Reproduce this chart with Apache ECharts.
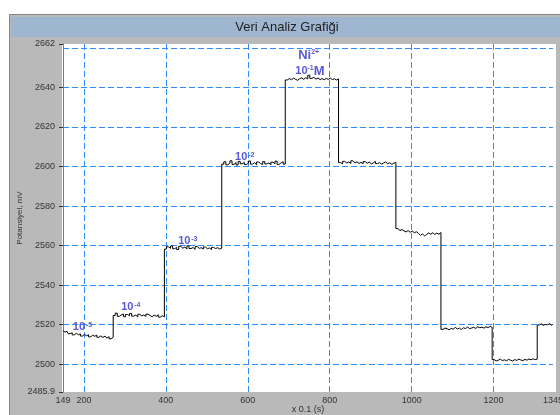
<!DOCTYPE html>
<html><head><meta charset="utf-8">
<script src="https://cdn.jsdelivr.net/npm/echarts@6/dist/echarts.min.js"></script>
<style>html,body{margin:0;padding:0;background:#fff}#c{width:560px;height:415px}</style>
</head><body><div id="c"></div>
<script>
const titleText = 'Veri Analiz Grafiği';
const xName = 'x 0.1 (s)';
const yName = 'Potansiyel, mV';
const xTickLabels = [149, 200, 400, 600, 800, 1000, 1200, 1345];
const yTickLabels = [2485.9, 2500, 2520, 2540, 2560, 2580, 2600, 2620, 2640, 2662];
const xGridLines = [200, 400, 600, 800, 1000, 1200];
const yGridLines = [2500, 2520, 2540, 2560, 2580, 2600, 2620, 2640, 2660];
const xMin = 149, xMax = 1345, yMin = 2485.9, yMax = 2662;
const tStart = 149, tStep = 5;

const seg1 = [2517.0, 2516.2, 2516.6, 2515.4, 2515.9, 2514.8, 2515.6, 2514.9, 2515.3, 2514.2, 2515.0, 2514.4, 2514.9, 2513.8, 2514.6, 2514.1, 2514.7, 2513.6, 2514.3, 2513.5, 2514.2, 2513.2, 2513.9, 2512.8, 2513.6];
const seg2 = [2524.6, 2525.8, 2524.2, 2524.9, 2525.4, 2524.0, 2525.1, 2524.5, 2525.6, 2524.3, 2524.8, 2523.9, 2525.2, 2524.4, 2524.9, 2524.1, 2525.3, 2524.6, 2524.0, 2524.8, 2524.2, 2525.0, 2523.8, 2524.5, 2523.9];
const seg3 = [2558.2, 2559.4, 2558.6, 2559.8, 2558.4, 2559.1, 2558.0, 2559.6, 2558.7, 2559.2, 2558.3, 2559.9, 2558.5, 2559.0, 2558.1, 2559.5, 2558.6, 2558.9, 2558.2, 2559.3, 2558.4, 2558.8, 2558.0, 2559.1, 2558.5, 2558.9, 2558.3, 2558.7];
const seg4 = [2601.2, 2602.4, 2600.9, 2601.8, 2602.9, 2601.1, 2602.0, 2600.8, 2602.6, 2601.4, 2602.1, 2601.0, 2601.7, 2602.8, 2601.2, 2601.9, 2600.9, 2602.3, 2601.5, 2601.0, 2602.5, 2601.3, 2601.8, 2600.9, 2602.2, 2601.4, 2602.7, 2601.1, 2601.9, 2602.4, 2601.2];
const seg5 = [2643.8, 2644.5, 2643.9, 2644.7, 2644.2, 2643.6, 2644.4, 2644.9, 2644.1, 2645.0, 2644.3, 2646.2, 2644.6, 2645.1, 2644.2, 2644.8, 2644.0, 2644.5, 2643.9, 2644.6, 2644.1, 2644.7, 2644.0, 2644.4, 2643.8, 2644.3];
const seg6 = [2602.0, 2601.3, 2602.6, 2601.8, 2602.3, 2601.5, 2602.9, 2601.9, 2602.4, 2601.6, 2602.1, 2601.4, 2602.5, 2601.7, 2602.2, 2601.3, 2601.9, 2602.6, 2601.5, 2602.0, 2601.2, 2601.8, 2602.3, 2601.4, 2601.9, 2601.1, 2601.7, 2602.1];
const seg7 = [2568.6, 2567.6, 2568.1, 2567.4, 2566.9, 2567.6, 2566.7, 2567.3, 2566.5, 2567.0, 2566.2, 2565.2, 2565.9, 2564.9, 2565.6, 2566.4, 2565.8, 2566.5, 2565.6, 2566.3, 2565.7, 2566.6];
const seg8 = [2517.6, 2518.3, 2517.9, 2517.4, 2518.1, 2517.7, 2518.6, 2517.8, 2518.2, 2517.5, 2518.4, 2518.0, 2518.8, 2517.9, 2518.3, 2518.6, 2518.1, 2518.9, 2518.4, 2518.7, 2518.2, 2518.9, 2518.5, 2519.1, 2518.6];
const seg9 = [2502.3, 2501.6, 2502.0, 2502.5, 2501.8, 2502.2, 2501.7, 2502.4, 2502.0, 2501.6, 2502.3, 2501.9, 2502.5, 2502.1, 2501.8, 2502.4, 2502.0, 2502.6, 2502.2, 2502.7, 2502.3, 2502.5];
const seg10 = [2519.8, 2520.4, 2519.6, 2520.1, 2519.9, 2520.5, 2519.7, 2520.0];

const annoText = ['{b|10}{g| }{s|-5}', '{b|10}{g| }{s|-4}', '{b|10}{g| }{s|-3}', '{b|10}{g| }{s|-2}', '{n|Ni}{s|2+}', '{b|10}{s|-1}{n|M}'];
const annoX = [173, 291, 430, 569, 723, 716];
const annoY = [2518.7, 2528.8, 2562.2, 2604.8, 2656.4, 2648.3];

const values = [].concat(seg1, seg2, seg3, seg4, seg5, seg6, seg7, seg8, seg9, seg10);
const data = values.map((v, i) => [tStart + i * tStep, v]);
const gridData = xGridLines.map(v => ({coords: [[v, yMin], [v, yMax]]}))
  .concat(yGridLines.map(v => ({coords: [[xMin, v], [xMax, v]]})));

const FONT = '"Liberation Sans", Arial, sans-serif';
const annoColor = '#5a5ad6';
const gridColor = '#2f8cff';

const chart = echarts.init(document.getElementById('c'), null, {renderer: 'canvas'});
chart.setOption({
  animation: false,
  backgroundColor: '#ffffff',
  textStyle: {fontFamily: FONT},
  graphic: [
    {type: 'rect', z: -10, shape: {x: 9.5, y: 14.5, width: 560, height: 410}, style: {fill: '#b9b9b9', stroke: '#858585', lineWidth: 1}},
    {type: 'rect', z: -9, shape: {x: 11, y: 17, width: 549, height: 20}, style: {fill: '#9fb6d0'}},
    {type: 'rect', z: -9, shape: {x: 62, y: 44, width: 494, height: 348}, style: {fill: '#ffffff'}},
    {type: 'text', z: 5, style: {text: titleText, x: 287, y: 27, align: 'center', verticalAlign: 'middle', font: '13px ' + FONT, fill: '#1e1e1e'}}
  ],
  grid: {left: 63, right: 7, top: 44, bottom: 23, containLabel: false, outerBoundsMode: 'none'},
  xAxis: {
    type: 'value', min: xMin, max: xMax,
    name: xName, nameLocation: 'middle', nameGap: 13, nameMoveOverlap: false,
    nameTextStyle: {fontSize: 9, color: '#333', fontFamily: FONT},
    axisLine: {show: false}, axisTick: {show: false}, splitLine: {show: false},
    axisLabel: {customValues: xTickLabels, fontSize: 9, color: '#333', margin: 4, fontFamily: FONT, formatter: v => String(v)}
  },
  yAxis: {
    type: 'value', min: yMin, max: yMax,
    name: yName, nameLocation: 'middle', nameGap: 39, nameRotate: 90, nameMoveOverlap: false,
    nameTextStyle: {fontSize: 8, color: '#333', fontFamily: FONT},
    axisLine: {show: true, lineStyle: {color: '#7a7a7a', width: 1}},
    axisTick: {show: true, customValues: yTickLabels, length: 4, lineStyle: {color: '#333'}},
    splitLine: {show: false},
    axisLabel: {customValues: yTickLabels, fontSize: 9, color: '#333', margin: 8, fontFamily: FONT, formatter: v => String(v)}
  },
  series: [
    {
      type: 'lines', coordinateSystem: 'cartesian2d', z: 1, silent: true,
      lineStyle: {color: gridColor, width: 1, type: [6, 3], opacity: 1, curveness: 0},
      data: gridData
    },
    {
      type: 'line', z: 3, data: data, step: 'middle', showSymbol: false, symbol: 'none',
      lineStyle: {color: '#000', width: 1}, silent: true,
      markPoint: {
        silent: true, symbol: 'circle', symbolSize: 0,
        data: annoX.map((x, i) => ({
          coord: [x, annoY[i]],
          label: {
            show: true, position: 'right', distance: 0, formatter: annoText[i],
            rich: {
              b: {fontSize: 11, fontWeight: 'bold', color: annoColor, fontFamily: FONT},
              n: {fontSize: 13, fontWeight: 'bold', color: annoColor, fontFamily: FONT},
              g: {fontSize: 3},
              s: {fontSize: 7, fontWeight: 'bold', color: annoColor, fontFamily: FONT, verticalAlign: 'top'}
            }
          }
        }))
      }
    }
  ]
});
</script></body></html>
